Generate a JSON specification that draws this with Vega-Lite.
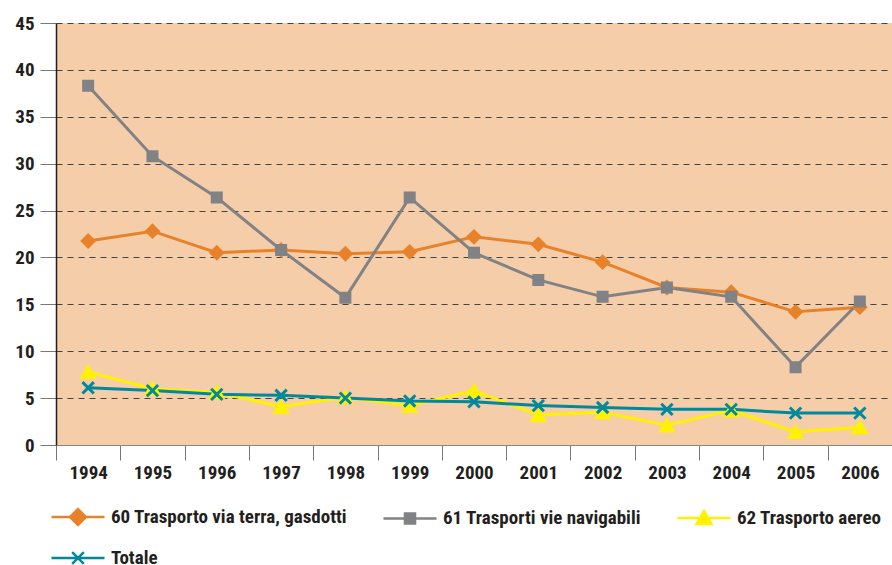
{
  "$schema": "https://vega.github.io/schema/vega-lite/v6.json",
  "width": 836,
  "height": 422,
  "autosize": "none",
  "padding": {"left": 56, "top": 23, "right": 0, "bottom": 120},
  "background": "white",
  "config": {
    "view": {"fill": "#F5CDA9", "stroke": null},
    "font": "Roboto Condensed, DejaVu Sans Condensed, Liberation Sans Narrow, Liberation Sans, sans-serif",
    "legend": {
      "orient": "none",
      "direction": "horizontal",
      "legendX": -6,
      "legendY": 466,
      "columns": 3,
      "columnPadding": 30,
      "rowPadding": -24,
      "symbolSize": 2809,
      "symbolStrokeWidth": 2.5,
      "symbolOpacity": 1,
      "labelOffset": 5,
      "labelFontSize": 19,
      "labelFontWeight": "bold",
      "labelColor": "#231F20",
      "labelLimit": 400
    }
  },
  "data": {
    "values": [
      {"year": "1994", "series": "60 Trasporto via terra, gasdotti", "value": 21.75},
      {"year": "1995", "series": "60 Trasporto via terra, gasdotti", "value": 22.8},
      {"year": "1996", "series": "60 Trasporto via terra, gasdotti", "value": 20.5},
      {"year": "1997", "series": "60 Trasporto via terra, gasdotti", "value": 20.8},
      {"year": "1998", "series": "60 Trasporto via terra, gasdotti", "value": 20.4},
      {"year": "1999", "series": "60 Trasporto via terra, gasdotti", "value": 20.6},
      {"year": "2000", "series": "60 Trasporto via terra, gasdotti", "value": 22.2},
      {"year": "2001", "series": "60 Trasporto via terra, gasdotti", "value": 21.4},
      {"year": "2002", "series": "60 Trasporto via terra, gasdotti", "value": 19.5},
      {"year": "2003", "series": "60 Trasporto via terra, gasdotti", "value": 16.8},
      {"year": "2004", "series": "60 Trasporto via terra, gasdotti", "value": 16.3},
      {"year": "2005", "series": "60 Trasporto via terra, gasdotti", "value": 14.2},
      {"year": "2006", "series": "60 Trasporto via terra, gasdotti", "value": 14.7},
      {"year": "1994", "series": "61 Trasporti vie navigabili", "value": 38.3},
      {"year": "1995", "series": "61 Trasporti vie navigabili", "value": 30.8},
      {"year": "1996", "series": "61 Trasporti vie navigabili", "value": 26.4},
      {"year": "1997", "series": "61 Trasporti vie navigabili", "value": 20.8},
      {"year": "1998", "series": "61 Trasporti vie navigabili", "value": 15.7},
      {"year": "1999", "series": "61 Trasporti vie navigabili", "value": 26.4},
      {"year": "2000", "series": "61 Trasporti vie navigabili", "value": 20.5},
      {"year": "2001", "series": "61 Trasporti vie navigabili", "value": 17.6},
      {"year": "2002", "series": "61 Trasporti vie navigabili", "value": 15.8},
      {"year": "2003", "series": "61 Trasporti vie navigabili", "value": 16.8},
      {"year": "2004", "series": "61 Trasporti vie navigabili", "value": 15.8},
      {"year": "2005", "series": "61 Trasporti vie navigabili", "value": 8.3},
      {"year": "2006", "series": "61 Trasporti vie navigabili", "value": 15.3},
      {"year": "1994", "series": "62 Trasporto aereo", "value": 7.8},
      {"year": "1995", "series": "62 Trasporto aereo", "value": 6.0},
      {"year": "1996", "series": "62 Trasporto aereo", "value": 5.6},
      {"year": "1997", "series": "62 Trasporto aereo", "value": 4.1},
      {"year": "1998", "series": "62 Trasporto aereo", "value": 5.1},
      {"year": "1999", "series": "62 Trasporto aereo", "value": 4.2},
      {"year": "2000", "series": "62 Trasporto aereo", "value": 5.8},
      {"year": "2001", "series": "62 Trasporto aereo", "value": 3.2},
      {"year": "2002", "series": "62 Trasporto aereo", "value": 3.5},
      {"year": "2003", "series": "62 Trasporto aereo", "value": 2.1},
      {"year": "2004", "series": "62 Trasporto aereo", "value": 3.7},
      {"year": "2005", "series": "62 Trasporto aereo", "value": 1.4},
      {"year": "2006", "series": "62 Trasporto aereo", "value": 1.9},
      {"year": "1994", "series": "Totale", "value": 6.1},
      {"year": "1995", "series": "Totale", "value": 5.8},
      {"year": "1996", "series": "Totale", "value": 5.4},
      {"year": "1997", "series": "Totale", "value": 5.3},
      {"year": "1998", "series": "Totale", "value": 5.0},
      {"year": "1999", "series": "Totale", "value": 4.7},
      {"year": "2000", "series": "Totale", "value": 4.6},
      {"year": "2001", "series": "Totale", "value": 4.2},
      {"year": "2002", "series": "Totale", "value": 4.0},
      {"year": "2003", "series": "Totale", "value": 3.8},
      {"year": "2004", "series": "Totale", "value": 3.8},
      {"year": "2005", "series": "Totale", "value": 3.4},
      {"year": "2006", "series": "Totale", "value": 3.4}
    ]
  },
  "encoding": {
    "x": {
      "field": "year",
      "type": "ordinal",
      "scale": {"type": "band", "paddingInner": 0, "paddingOuter": 0},
      "axis": {
        "title": null,
        "labelAngle": 0,
        "tickBand": "extent",
        "tickSize": 15,
        "tickColor": "#777",
        "domainColor": "#888",
        "labelFontSize": 19,
        "labelFontWeight": "bold",
        "labelColor": "#231F20",
        "labelPadding": 3,
        "grid": false
      }
    },
    "y": {
      "field": "value",
      "type": "quantitative",
      "scale": {"domain": [0, 45], "nice": false},
      "axis": {
        "title": null,
        "values": [0, 5, 10, 15, 20, 25, 30, 35, 40, 45],
        "tickSize": 16,
        "tickColor": "#777",
        "domainColor": "#231F20",
        "domainWidth": 1.5,
        "labelFontSize": 19,
        "labelFontWeight": "bold",
        "labelColor": "#231F20",
        "labelPadding": 6,
        "grid": true,
        "gridColor": "#444",
        "gridDash": [6, 5],
        "gridWidth": 1.2,
        "gridOpacity": 1
      }
    }
  },
  "layer": [
    {
      "mark": {"type": "line", "strokeWidth": 3},
      "encoding": {
        "color": {
          "field": "series",
          "type": "nominal",
          "sort": null,
          "title": null,
          "scale": {
            "domain": ["60 Trasporto via terra, gasdotti", "61 Trasporti vie navigabili", "62 Trasporto aereo", "Totale"],
            "range": ["#E8822A", "#808285", "#FFF200", "#00899C"]
          }
        }
      }
    },
    {
      "transform": [{"filter": "datum.series == '60 Trasporto via terra, gasdotti'"}],
      "mark": {"type": "point", "shape": "diamond", "size": 170, "filled": true, "color": "#E8822A", "stroke": "#E8822A", "strokeWidth": 2, "opacity": 1},
      "encoding": {}
    },
    {
      "transform": [{"filter": "datum.series == '61 Trasporti vie navigabili'"}],
      "mark": {"type": "point", "shape": "square", "size": 100, "filled": true, "color": "#808285", "stroke": "#808285", "strokeWidth": 2, "opacity": 1},
      "encoding": {}
    },
    {
      "transform": [{"filter": "datum.series == '62 Trasporto aereo'"}],
      "mark": {"type": "point", "shape": "triangle-up", "size": 200, "filled": true, "color": "#FFF200", "stroke": "#FFF200", "strokeWidth": 2, "opacity": 1},
      "encoding": {}
    },
    {
      "transform": [{"filter": "datum.series == 'Totale'"}],
      "mark": {"type": "point", "shape": "M-0.8,-0.8L0.8,0.8M-0.8,0.8L0.8,-0.8", "size": 200, "filled": false, "stroke": "#00899C", "strokeWidth": 3, "opacity": 1},
      "encoding": {}
    },
    {
      "mark": {"type": "point", "filled": true, "opacity": 0},
      "encoding": {
        "color": {
          "field": "series",
          "type": "nominal",
          "sort": null,
          "title": null
        },
        "stroke": {
          "field": "series",
          "type": "nominal",
          "sort": null,
          "title": null,
          "scale": {
            "domain": ["60 Trasporto via terra, gasdotti", "61 Trasporti vie navigabili", "62 Trasporto aereo", "Totale"],
            "range": ["#E8822A", "#808285", "#FFF200", "#00899C"]
          }
        },
        "shape": {
          "field": "series",
          "type": "nominal",
          "sort": null,
          "title": null,
          "scale": {
            "domain": ["60 Trasporto via terra, gasdotti", "61 Trasporti vie navigabili", "62 Trasporto aereo", "Totale"],
            "range": [
              "M-1,0H1M0,-0.3L0.3,0L0,0.3L-0.3,0Z",
              "M-1,0H1M-0.19,-0.19H0.19V0.19H-0.19Z",
              "M-1,0H1M0,-0.26L0.28,0.23H-0.28Z",
              "M-1,0H1M-0.22,-0.22L0.22,0.22M-0.22,0.22L0.22,-0.22"
            ]
          }
        }
      }
    }
  ]
}
